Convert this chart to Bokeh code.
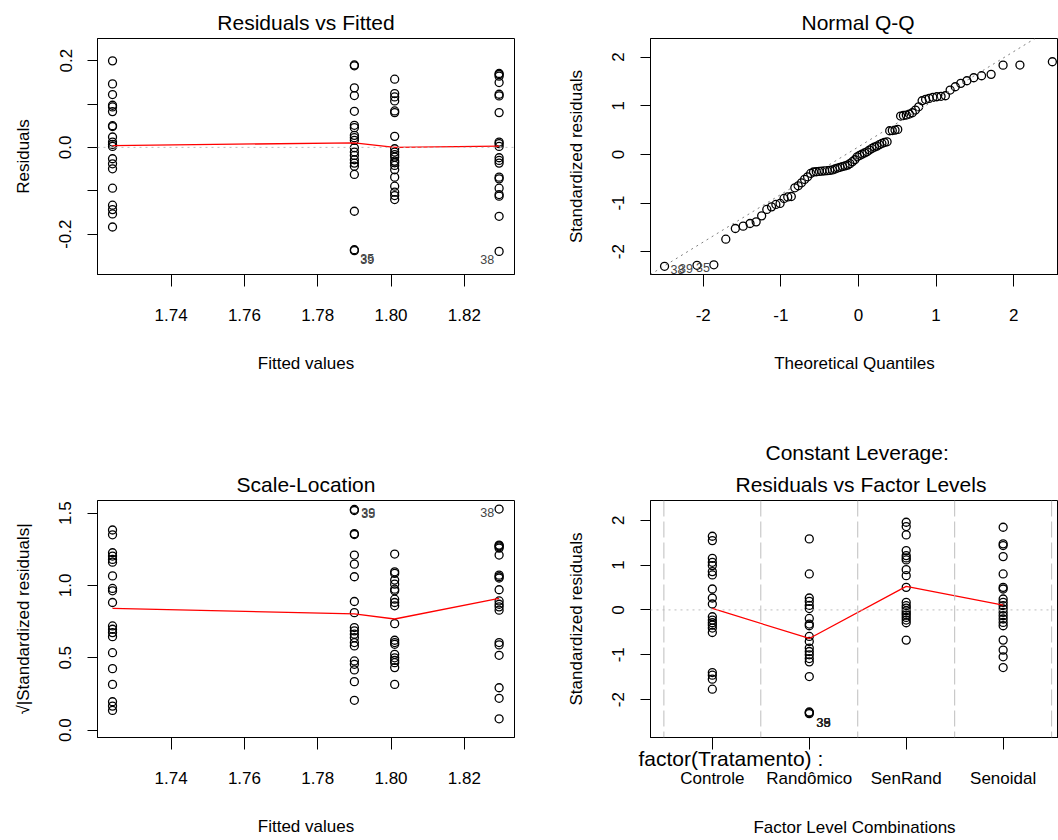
from bokeh.plotting import figure
from bokeh.layouts import column, row
from bokeh.models import (FixedTicker, PrintfTickFormatter, Span, Slope, Title, Range1d,
                          LinearAxis)
from bokeh.embed import file_html
from bokeh.resources import INLINE
from bokeh.core.properties import value

FONT = "Liberation Sans"

# ---------------- data ----------------
fitted_levels = [1.724, 1.790, 1.801, 1.8295]

resid_g1 = [0.1995, 0.1464, 0.1218, 0.0971, 0.0933, 0.0825, 0.050, 0.048, 0.0239, 0.0123,
            0.0069, 0.0023, -0.0262, -0.0378, -0.0493, -0.094, -0.1333, -0.1434, -0.1534, -0.1835]
resid_g2 = [0.190, 0.188, 0.1372, 0.1195, 0.0832, 0.0509, 0.0455, 0.0277, 0.0224, 0.0162,
            -0.0008, -0.0108, -0.0185, -0.0285, -0.0362, -0.0432, -0.0624, -0.1472, -0.236, -0.238]
resid_g3 = [0.1572, 0.1241, 0.1163, 0.1071, 0.0840, 0.0802, 0.0254, -0.0031, -0.0108, -0.0169,
            -0.0224, -0.0316, -0.0355, -0.0416, -0.0516, -0.0686, -0.0894, -0.1033, -0.1110, -0.1202]
resid_g4 = [0.1703, 0.1680, 0.1642, 0.1495, 0.1225, 0.1187, 0.0802, 0.0123, 0.0085, 0.0023,
            -0.0239, -0.0301, -0.0362, -0.0686, -0.0725, -0.0940, -0.1087, -0.1125, -0.1588, -0.2397]
resid_smooth = [0.004, 0.0106, 0.0, 0.003]

sqrt_g1 = [1.383, 1.350, 1.226, 1.203, 1.180, 1.161, 1.066, 0.979, 0.963, 0.882,
           0.720, 0.697, 0.674, 0.646, 0.535, 0.425, 0.316, 0.196, 0.166, 0.136]
sqrt_g2 = [1.525, 1.518, 1.358, 1.352, 1.210, 1.147, 1.060, 0.889, 0.812, 0.709,
           0.686, 0.663, 0.639, 0.605, 0.582, 0.478, 0.455, 0.416, 0.335, 0.206]
sqrt_g3 = [1.217, 1.094, 1.083, 1.037, 1.009, 0.974, 0.963, 0.905, 0.882, 0.859,
           0.736, 0.621, 0.605, 0.593, 0.524, 0.500, 0.482, 0.466, 0.432, 0.316]
sqrt_g4 = [1.528, 1.279, 1.274, 1.267, 1.258, 1.210, 1.071, 1.060, 1.051, 0.970,
           0.893, 0.870, 0.852, 0.829, 0.605, 0.589, 0.517, 0.293, 0.220, 0.078]
sqrt_smooth = [0.841, 0.803, 0.768, 0.911]

theoretical_quantiles = [
    -2.498, -2.080, -1.863, -1.709, -1.586, -1.485, -1.397, -1.318, -1.247, -1.181,
    -1.120, -1.064, -1.010, -0.959, -0.911, -0.865, -0.820, -0.776, -0.734, -0.694,
    -0.655, -0.616, -0.579, -0.543, -0.506, -0.471, -0.436, -0.402, -0.369, -0.335,
    -0.302, -0.270, -0.237, -0.205, -0.173, -0.141, -0.110, -0.078, -0.047, -0.016,
    0.016, 0.047, 0.078, 0.110, 0.141, 0.173, 0.205, 0.237, 0.270, 0.302,
    0.335, 0.369, 0.402, 0.436, 0.471, 0.506, 0.543, 0.579, 0.616, 0.655,
    0.694, 0.734, 0.776, 0.820, 0.865, 0.911, 0.959, 1.010, 1.064, 1.120,
    1.181, 1.247, 1.318, 1.397, 1.485, 1.586, 1.709, 1.863, 2.080, 2.498]
qq_std_resid = [
    -2.30, -2.28, -2.27, -1.743, -1.523, -1.475, -1.420, -1.387, -1.263, -1.132,
    -1.078, -1.029, -1.008, -0.905, -0.875, -0.865, -0.687, -0.646, -0.584, -0.514,
    -0.461, -0.391, -0.362, -0.357, -0.350, -0.345, -0.340, -0.335, -0.330, -0.320,
    -0.300, -0.280, -0.265, -0.250, -0.235, -0.220, -0.190, -0.150, -0.110, -0.049,
    -0.020, 0.006, 0.030, 0.053, 0.090, 0.123, 0.150, 0.171, 0.200, 0.226,
    0.245, 0.259, 0.486, 0.490, 0.500, 0.514, 0.788, 0.800, 0.809, 0.829,
    0.856, 0.912, 0.979, 1.103, 1.131, 1.152, 1.173, 1.185, 1.195, 1.206,
    1.323, 1.391, 1.461, 1.514, 1.576, 1.617, 1.646, 1.835, 1.837, 1.905]
qq_line_intercept = 0.156
qq_line_slope = 0.979

factor_levels = ["Controle", "Randômico", "SenRand", "Senoidal"]
std_controle = [1.643, 1.546, 1.151, 1.062, 0.988, 0.854, 0.780, 0.467, 0.266, 0.132,
                -0.152, -0.226, -0.286, -0.337, -0.404, -0.503, -1.397, -1.455, -1.544, -1.768]
std_randomico = [1.584, 0.802, 0.266, 0.19, 0.10, 0.03, -0.19, -0.315, -0.353, -0.592,
                 -0.704, -0.851, -0.927, -1.001, -1.084, -1.158, -1.486, -2.275, -2.29, -2.313]
std_senrand = [1.955, 1.859, 1.673, 1.323, 1.211, 1.160, 1.115, 0.898, 0.764, 0.503,
               0.168, 0.094, 0.042, -0.018, -0.069, -0.114, -0.168, -0.226, -0.286, -0.673]
std_senoidal = [1.844, 1.473, 1.435, 1.189, 0.802, 0.503, 0.467, 0.244, 0.168, 0.094,
                0.02, -0.056, -0.13, -0.203, -0.279, -0.353, -0.673, -0.896, -1.046, -1.285]
factor_smooth = [0.034, -0.637, 0.525, 0.109]

# ---------------- helpers ----------------
def style_axis(ax):
    ax.axis_line_color = "black"
    ax.major_tick_line_color = "black"
    ax.major_tick_in = 0
    ax.minor_tick_out = 0
    ax.minor_tick_in = 0
    ax.major_label_text_font = FONT
    ax.major_label_text_font_size = "17px"
    ax.major_label_text_color = "black"
    ax.axis_label_text_font = FONT
    ax.axis_label_text_font_size = "17px"
    ax.axis_label_text_font_style = "normal"
    ax.axis_label_text_color = "black"


def base_fig(xr, yr, left, right, top, bottom, fw, fh):
    p = figure(x_range=Range1d(*xr), y_range=Range1d(*yr), frame_width=fw, frame_height=fh,
               min_border_left=left, min_border_right=right, min_border_top=top,
               min_border_bottom=bottom, output_backend="svg", toolbar_location=None,
               title=None)
    p.grid.visible = False
    p.outline_line_color = "black"
    p.outline_line_width = 1
    p.background_fill_color = "white"
    p.border_fill_color = "white"
    for ax in p.xaxis:
        style_axis(ax)
        ax.major_tick_out = 12
        ax.major_label_standoff = 22
        ax.axis_label_standoff = 30
    for ax in p.yaxis:
        style_axis(ax)
        ax.major_tick_out = 10
        ax.major_label_standoff = 16
        ax.axis_label_standoff = 24
        ax.major_label_orientation = "vertical"
    return p


def add_title(p, text, standoff=10, align="center", offset=0):
    p.add_layout(Title(text=text, align=align, offset=offset, text_font=FONT,
                       text_font_size="21px", text_font_style="normal",
                       text_color="black", standoff=standoff), "above")


def pts(p, xs, ys):
    p.scatter(xs, ys, marker="circle", size=8, fill_color=None, line_color="black",
              line_width=1.3)


def ids(p, xs, ys, labels, align, dx, dy, size="12.5px", color="#444"):
    p.text(xs, ys, text=labels, text_font=value(FONT), text_font_size=size,
           text_color=color, text_align=align, text_baseline="middle",
           x_offset=dx, y_offset=dy)


def zero_line(p):
    p.add_layout(Span(location=0, dimension="width", line_color="#BEBEBE",
                      line_dash="2 4", line_width=1))


resid_groups = [resid_g1, resid_g2, resid_g3, resid_g4]
sqrt_groups = [sqrt_g1, sqrt_g2, sqrt_g3, sqrt_g4]
std_groups = [std_controle, std_randomico, std_senrand, std_senoidal]

# ---------------- panel 1: Residuals vs Fitted ----------------
p1 = base_fig((1.7199, 1.8337), (-0.293, 0.251), 97, 15, 38, 146, 417, 236)
add_title(p1, "Residuals vs Fitted")
p1.xaxis.axis_label = "Fitted values"
p1.yaxis.axis_label = "Residuals"
p1.xaxis.ticker = FixedTicker(ticks=[1.74, 1.76, 1.78, 1.80, 1.82])
p1.xaxis.formatter = PrintfTickFormatter(format="%.2f")
p1.yaxis.ticker = FixedTicker(ticks=[-0.2, 0.0, 0.2], minor_ticks=[-0.1, 0.1])
p1.yaxis.minor_tick_out = 10
p1.yaxis.minor_tick_line_color = "black"
p1.yaxis.formatter = PrintfTickFormatter(format="%.1f")
zero_line(p1)
for fv, grp in zip(fitted_levels, resid_groups):
    pts(p1, [fv] * len(grp), grp)
p1.line(fitted_levels, resid_smooth, line_color="red", line_width=1.3)
ids(p1, [fitted_levels[1], fitted_levels[1]], [resid_g2[-2], resid_g2[-1]], ["35", "39"],
    "left", 6, 9)
ids(p1, [fitted_levels[3]], [resid_g4[-1]], ["38"], "right", -5, 8)

# ---------------- panel 2: Normal Q-Q ----------------
p2 = base_fig((-2.679, 2.577), (-2.469, 2.383), 121, 0, 38, 146, 408, 236)
add_title(p2, "Normal Q-Q", align="left", offset=151)
p2.xaxis.axis_label = "Theoretical Quantiles"
p2.yaxis.axis_label = "Standardized residuals"
p2.xaxis.ticker = FixedTicker(ticks=[-2, -1, 0, 1, 2])
p2.yaxis.ticker = FixedTicker(ticks=[-2, -1, 0, 1, 2])
p2.xaxis.formatter = PrintfTickFormatter(format="%d")
p2.yaxis.formatter = PrintfTickFormatter(format="%d")
p2.add_layout(Slope(gradient=qq_line_slope, y_intercept=qq_line_intercept,
                    line_color="#7F7F7F", line_dash="2 4", line_width=1))
pts(p2, theoretical_quantiles, qq_std_resid)
ids(p2, [theoretical_quantiles[0]], [qq_std_resid[0]], ["38"], "left", 6, 3)
ids(p2, theoretical_quantiles[1:3], qq_std_resid[1:3], ["39", "35"], "right", -4, 3)

# ---------------- panel 3: Scale-Location ----------------
p3 = base_fig((1.7199, 1.8337), (-0.051, 1.587), 97, 15, 80, 103, 417, 237)
add_title(p3, "Scale-Location")
p3.xaxis.axis_label = "Fitted values"
p3.yaxis.axis_label = "√|Standardized residuals|"
p3.xaxis.ticker = FixedTicker(ticks=[1.74, 1.76, 1.78, 1.80, 1.82])
p3.xaxis.formatter = PrintfTickFormatter(format="%.2f")
p3.yaxis.ticker = FixedTicker(ticks=[0.0, 0.5, 1.0, 1.5])
p3.yaxis.formatter = PrintfTickFormatter(format="%.1f")
for fv, grp in zip(fitted_levels, sqrt_groups):
    pts(p3, [fv] * len(grp), grp)
p3.line(fitted_levels, sqrt_smooth, line_color="red", line_width=1.3)
ids(p3, [fitted_levels[1], fitted_levels[1]], [sqrt_g2[0], sqrt_g2[1]], ["39", "35"],
    "left", 7, 3)
ids(p3, [fitted_levels[3]], [sqrt_g4[0]], ["38"], "right", -5, 3)

# ---------------- panel 4: Residuals vs Factor Levels ----------------
level_pos = list(range(len(factor_levels)))
level_bounds = [k - 0.5 for k in range(len(factor_levels) + 1)]
p4 = base_fig((-0.638, 3.571), (-2.845, 2.44), 121, 0, 80, 103, 408, 237)
add_title(p4, "Residuals vs Factor Levels", standoff=10, align="left", offset=85)
add_title(p4, "Constant Leverage:", standoff=3, align="left", offset=115)
p4.yaxis.axis_label = "Standardized residuals"
p4.yaxis.ticker = FixedTicker(ticks=[-2, -1, 0, 1, 2])
p4.yaxis.formatter = PrintfTickFormatter(format="%d")
# axis A: tick marks only (drawn as unlabeled minor ticks)
p4.xaxis.ticker = FixedTicker(ticks=[], minor_ticks=level_pos)
p4.xaxis.minor_tick_out = 12
p4.xaxis.minor_tick_in = 0
p4.xaxis.minor_tick_line_color = "black"
p4.xaxis.major_label_standoff = 0
# factor name line, between the ticks and the level labels
p4.add_layout(Title(text="factor(Tratamento) :", align="left", vertical_align="top",
                    offset=-12, standoff=-6, text_font=FONT, text_font_size="21px",
                    text_font_style="normal", text_color="black"), "below")
# axis B: level names and axis title
axis_b = LinearAxis(ticker=FixedTicker(ticks=level_pos),
                    major_label_overrides={k: name for k, name in zip(level_pos, factor_levels)},
                    axis_label="Factor Level Combinations")
style_axis(axis_b)
axis_b.axis_line_color = None
axis_b.major_tick_line_color = None
axis_b.major_tick_out = 0
axis_b.major_label_standoff = 0
axis_b.axis_label_standoff = 27
p4.add_layout(axis_b, "below")

for b in level_bounds:
    p4.add_layout(Span(location=b, dimension="height", line_color="#BEBEBE",
                       line_dash="16 5", line_width=1))
zero_line(p4)
for k, grp in zip(level_pos, std_groups):
    pts(p4, [k] * len(grp), grp)
p4.line(level_pos, factor_smooth, line_color="red", line_width=1.3)
ids(p4, [1, 1, 1], [std_randomico[-1]] * 3, ["39", "35", "38"], "left", 7, 9,
    size="13px", color="#222")

layout = column(row(p1, p2), row(p3, p4))
open("out.html", "w").write(file_html(layout, INLINE))
